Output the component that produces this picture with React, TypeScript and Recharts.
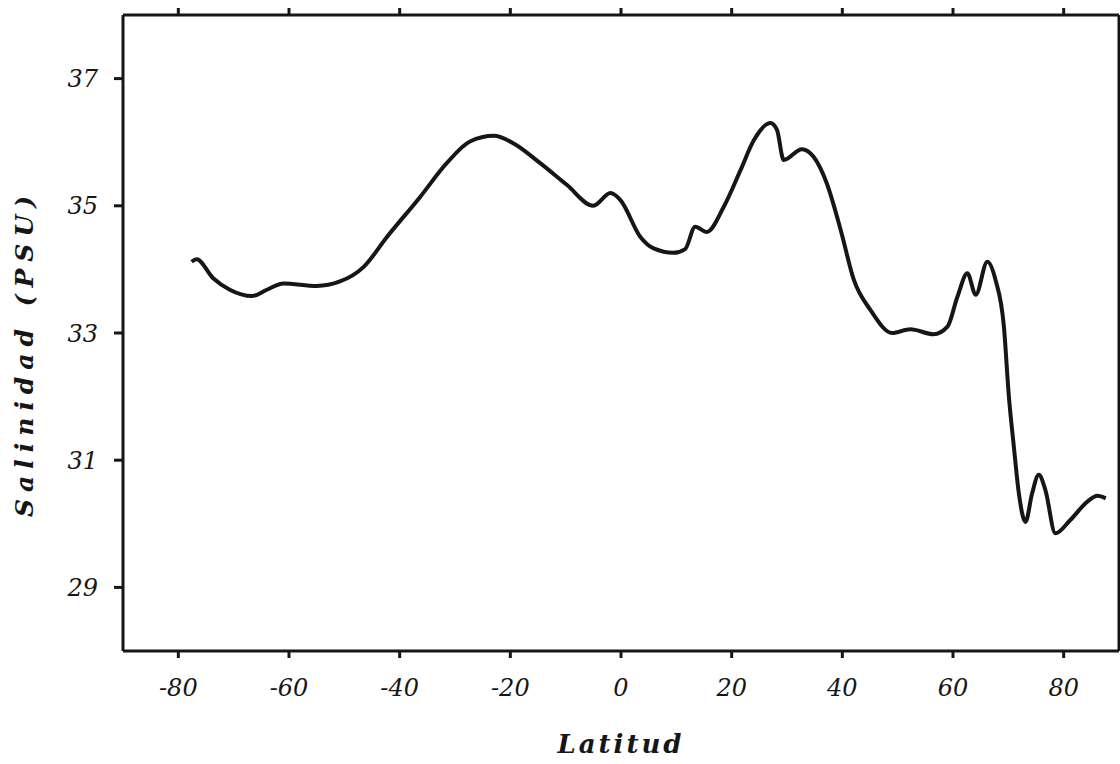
import { LineChart, Line, XAxis, YAxis } from "recharts";

// latitude (deg) and surface salinity (PSU)
const latitudes = [
  -77.6, -76.7, -73.7, -70.7, -66.7, -64.0, -61.0, -55.0, -50.8, -46.5,
  -42.3, -36.3, -31.5, -27.3, -23.0, -19.4, -14.6, -9.8, -5.0, -1.9,
  -0.1, 3.5, 5.9, 9.5, 11.6, 13.4, 15.5, 18.6, 21.6, 24.0,
  27.0, 28.2, 29.4, 32.7, 34.8, 37.2, 39.7, 42.1, 45.1, 49.0,
  52.3, 56.5, 59.0, 60.8, 62.6, 64.1, 66.2, 67.7, 69.2, 70.1,
  71.0, 71.9, 73.1, 74.3, 75.5, 76.7, 78.5, 81.2, 84.3, 86.1, 87.6,
];
const salinity = [
  34.12, 34.16, 33.86, 33.68, 33.58, 33.68, 33.78, 33.74, 33.81, 34.04,
  34.51, 35.14, 35.67, 36.01, 36.1, 35.98, 35.67, 35.33, 35.0, 35.2,
  35.09, 34.51, 34.33, 34.26, 34.32, 34.67, 34.59, 34.99, 35.56, 36.03,
  36.3, 36.19, 35.72, 35.89, 35.77, 35.35, 34.62, 33.83, 33.36, 33.0,
  33.06, 32.98, 33.1, 33.57, 33.94, 33.6, 34.12, 33.83, 33.1, 32.0,
  31.21, 30.48, 30.03, 30.48, 30.77, 30.53, 29.85, 30.06, 30.35, 30.44, 30.4,
];
const xTicks = [-80, -60, -40, -20, 0, 20, 40, 60, 80];
const yTicks = [29, 31, 33, 35, 37];

const data = latitudes.map((lat, i) => ({ lat, sal: salinity[i] }));

const INK = "#161616";
const FONT = "'DejaVu Serif', serif";
const tickStyle = { fill: INK, fontSize: 24, fontStyle: "italic", fontFamily: FONT };
const frame = { stroke: INK, strokeWidth: 3 };

export default function App() {
  return (
    <div style={{ position: "absolute", left: 0, top: 0, background: "#fff" }}>
      <LineChart width={1120} height={764} data={data} margin={{ top: 14, right: 0, left: 0, bottom: 0 }}>
        <XAxis
          dataKey="lat"
          type="number"
          domain={[-90, 90]}
          ticks={xTicks}
          tick={tickStyle}
          tickSize={7}
          tickMargin={21}
          height={113}
          axisLine={frame}
          tickLine={frame}
          label={{
            content: ({ viewBox }: any) => (
              <text
                x={viewBox.x + viewBox.width / 2}
                y={viewBox.y + 102}
                textAnchor="middle"
                fill={INK}
                style={{ fontSize: 26, fontStyle: "italic", fontWeight: 700, fontFamily: FONT, letterSpacing: 3 }}
              >
                Latitud
              </text>
            ),
          }}
        />
        <XAxis
          xAxisId="top"
          orientation="top"
          dataKey="lat"
          type="number"
          domain={[-90, 90]}
          ticks={xTicks}
          tickFormatter={() => ""}
          tickSize={7}
          height={1}
          axisLine={frame}
          tickLine={frame}
        />
        <YAxis
          type="number"
          domain={[28, 38]}
          ticks={yTicks}
          tick={tickStyle}
          tickSize={9}
          tickMargin={16}
          width={123}
          axisLine={frame}
          tickLine={frame}
          label={{
            content: ({ viewBox }: any) => {
              const cx = 24;
              const cy = viewBox.y + viewBox.height / 2 + 20;
              return (
                <text
                  x={cx}
                  y={cy}
                  transform={`rotate(-90 ${cx} ${cy})`}
                  textAnchor="middle"
                  dominantBaseline="central"
                  fill={INK}
                  style={{ fontSize: 25, fontStyle: "italic", fontWeight: 700, fontFamily: FONT, letterSpacing: 7 }}
                >
                  Salinidad (PSU)
                </text>
              );
            },
          }}
        />
        <YAxis
          yAxisId="right"
          orientation="right"
          type="number"
          domain={[28, 38]}
          ticks={yTicks}
          width={1}
          tick={false}
          tickLine={false}
          axisLine={frame}
        />
        <Line
          type="monotone"
          dataKey="sal"
          stroke={INK}
          strokeWidth={4}
          dot={false}
          isAnimationActive={false}
        />
        <Line
          xAxisId="top"
          yAxisId="right"
          type="monotone"
          dataKey="sal"
          stroke="none"
          dot={false}
          legendType="none"
          isAnimationActive={false}
        />
      </LineChart>
    </div>
  );
}
